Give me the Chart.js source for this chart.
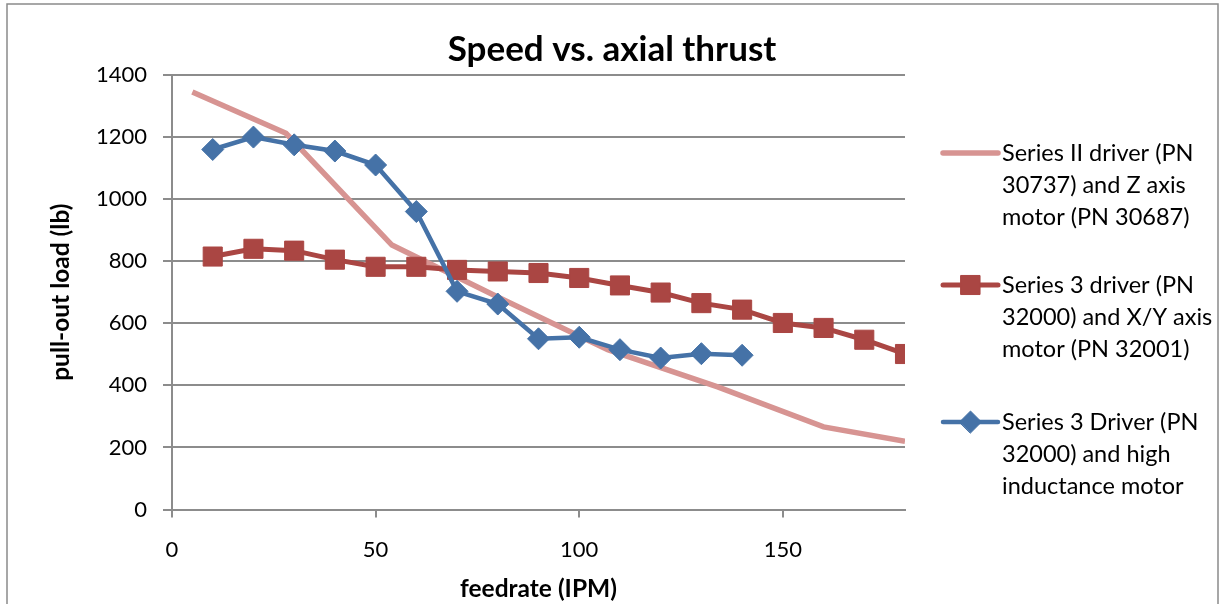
<!DOCTYPE html>
<html>
<head>
<meta charset="utf-8">
<script src="https://cdn.jsdelivr.net/npm/chart.js@4.4.1/dist/chart.umd.min.js"></script>
<style>
  html, body { margin: 0; padding: 0; background: #fff; }
  #wrap { position: relative; width: 1220px; height: 604px; }
  canvas { display: block; }
</style>
</head>
<body>
<div id="wrap"><canvas id="c" width="1220" height="604"></canvas></div>
<script>
// ---- data ----
const chartTitle = 'Speed vs. axial thrust';
const xAxisTitle = 'feedrate (IPM)';
const yAxisTitle = 'pull-out load (lb)';

const seriesNames = [
  ['Series II driver (PN', '30737) and Z axis', 'motor (PN 30687)'],
  ['Series 3 driver (PN', '32000) and X/Y axis', 'motor (PN 32001)'],
  ['Series 3 Driver (PN', '32000) and high', 'inductance motor']
];

const series2X = [5, 28, 54, 81, 107, 134, 160, 180];
const series2Y = [1345, 1212, 852, 678, 515, 395, 266, 220];

const series3X = [10, 20, 30, 40, 50, 60, 70, 80, 90, 100, 110, 120, 130, 140, 150, 160, 170, 180];
const series3Y = [815, 840, 834, 805, 782, 782, 772, 767, 762, 746, 722, 699, 665, 644, 601, 585, 547, 501];

const series3hX = [10, 20, 30, 40, 50, 60, 70, 80, 90, 100, 110, 120, 130, 140];
const series3hY = [1160, 1200, 1175, 1155, 1110, 960, 703, 662, 550, 555, 515, 488, 502, 497];

const xTicks = [0, 50, 100, 150];
const yTicks = [0, 200, 400, 600, 800, 1000, 1200, 1400];

// ---- build ----
const toPts = (xs, ys) => xs.map((x, i) => ({ x: x, y: ys[i] }));
const FONT = 'Lato, "Liberation Sans", sans-serif';
const GRID = '#8c8c8c';

const titlePlugin = {
  id: 'centerTitle',
  afterDraw(chart) {
    const ctx = chart.ctx;
    ctx.save();
    ctx.fillStyle = '#000';
    ctx.font = 'bold 35px ' + FONT;
    ctx.textAlign = 'center';
    ctx.textBaseline = 'middle';
    ctx.fillText(chartTitle, 612, 50);
    ctx.restore();
  }
};

const legendPlugin = {
  id: 'sideLegend',
  afterDraw(chart) {
    const ctx = chart.ctx;
    const x0 = 943, x1 = 998, tx = 1002;
    const starts = [153, 285, 422];
    const lh = 32;
    chart.data.datasets.forEach((ds, i) => {
      const y = starts[i];
      ctx.save();
      ctx.strokeStyle = ds.borderColor;
      ctx.lineWidth = ds.borderWidth;
      ctx.lineCap = 'round';
      ctx.beginPath();
      ctx.moveTo(x0, y);
      ctx.lineTo(x1, y);
      ctx.stroke();
      if (ds.pointStyle && ds.pointRadius > 0) {
        ctx.fillStyle = ds.pointBackgroundColor;
        ctx.strokeStyle = ds.pointBorderColor;
        ctx.lineWidth = 1;
        Chart.helpers.drawPoint(ctx, { pointStyle: ds.pointStyle, radius: ds.pointRadius, borderWidth: 1 }, (x0 + x1) / 2, y);
      }
      ctx.fillStyle = '#000';
      ctx.font = '23.5px ' + FONT;
      ctx.textBaseline = 'middle';
      ctx.textAlign = 'left';
      seriesNames[i].forEach((t, k) => ctx.fillText(t, tx, y + k * lh));
      ctx.restore();
    });
  }
};

const framePlugin = {
  id: 'frame',
  afterDraw(chart) {
    const ctx = chart.ctx;
    ctx.save();
    ctx.strokeStyle = '#8a8a8a';
    ctx.lineWidth = 1.5;
    ctx.strokeRect(7, 4, 1211, 620);
    ctx.restore();
  }
};

new Chart(document.getElementById('c'), {
  type: 'line',
  data: {
    datasets: [
      {
        label: seriesNames[0].join(' '),
        data: toPts(series2X, series2Y),
        borderColor: 'rgb(215,148,146)',
        backgroundColor: 'rgb(215,148,146)',
        borderWidth: 5.5,
        pointRadius: 0,
        pointStyle: false,
        tension: 0,
        order: 3
      },
      {
        label: seriesNames[1].join(' '),
        data: toPts(series3X, series3Y),
        borderColor: '#AA4643',
        backgroundColor: '#AA4643',
        pointBackgroundColor: '#AA4643',
        pointBorderColor: '#AA4643',
        borderWidth: 5,
        pointStyle: 'rect',
        pointRadius: 13.5,
        pointBorderWidth: 1,
        tension: 0,
        order: 2
      },
      {
        label: seriesNames[2].join(' '),
        data: toPts(series3hX, series3hY),
        borderColor: '#4572A7',
        backgroundColor: '#4572A7',
        pointBackgroundColor: '#4572A7',
        pointBorderColor: '#4572A7',
        borderWidth: 4.5,
        pointStyle: 'rectRot',
        pointRadius: 11,
        pointBorderWidth: 1,
        tension: 0,
        order: 1
      }
    ]
  },
  options: {
    responsive: false,
    animation: false,
    layout: { padding: { left: 0, right: 315, top: 75, bottom: 0 } },
    plugins: {
      legend: { display: false },
      tooltip: { enabled: false },
      title: { display: false }
    },
    scales: {
      x: {
        type: 'linear',
        min: 0,
        max: 180,
        afterBuildTicks: (s) => { s.ticks = xTicks.map(v => ({ value: v })); },
        afterFit: (s) => { s.height = 94.5; },
        ticks: {
          color: '#000',
          font: { family: FONT, size: 22 },
          padding: 19,
          maxRotation: 0,
          callback: (v) => String(v)
        },
        grid: {
          drawOnChartArea: false,
          drawTicks: true,
          tickLength: 8,
          color: GRID,
          lineWidth: 2
        },
        border: { display: true, color: GRID, width: 2 },
        title: {
          display: true,
          text: xAxisTitle,
          color: '#000',
          font: { family: FONT, size: 24.5, weight: 'bold', lineHeight: 1.2 },
          padding: { top: 2, bottom: 0 }
        }
      },
      y: {
        min: 0,
        max: 1400,
        afterBuildTicks: (s) => { s.ticks = yTicks.map(v => ({ value: v })); },
        afterFit: (s) => { s.width = 172; },
        ticks: {
          color: '#000',
          font: { family: FONT, size: 22 },
          padding: 16,
          callback: (v) => String(v)
        },
        grid: {
          drawTicks: true,
          tickLength: 9,
          color: GRID,
          lineWidth: 2
        },
        border: { display: true, color: GRID, width: 2 },
        title: {
          display: true,
          text: yAxisTitle,
          color: '#000',
          font: { family: FONT, size: 24.5, weight: 'bold', lineHeight: 1.2 },
          padding: { top: 46, bottom: 0 }
        }
      }
    }
  },
  plugins: [titlePlugin, legendPlugin, framePlugin]
});
</script>
</body>
</html>
